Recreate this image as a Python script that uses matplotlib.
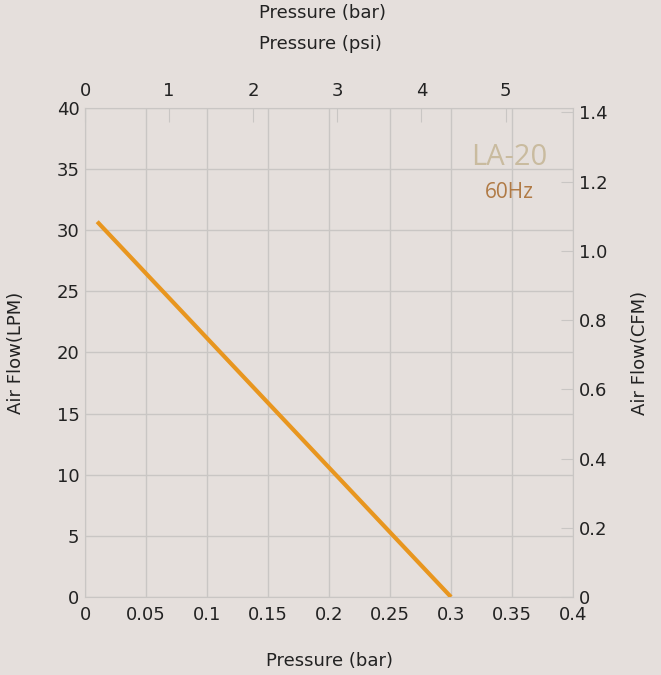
import matplotlib.pyplot as plt

# data
pressure_bar = [0.01, 0.30]
flow_lpm = [30.7, 0.0]

bar_ticks = [0, 0.05, 0.1, 0.15, 0.2, 0.25, 0.3, 0.35, 0.4]
bar_labels = ["0", "0.05", "0.1", "0.15", "0.2", "0.25", "0.3", "0.35", "0.4"]
lpm_ticks = [0, 5, 10, 15, 20, 25, 30, 35, 40]
psi_ticks = [0, 1, 2, 3, 4, 5]
cfm_ticks = [0, 0.2, 0.4, 0.6, 0.8, 1.0, 1.2, 1.4]
cfm_labels = ["0", "0.2", "0.4", "0.6", "0.8", "1.0", "1.2", "1.4"]

PSI_PER_BAR = 14.5038
CFM_PER_LPM = 0.0353147

bg = "#e5dfdc"
grid_c = "#c9c6c4"
txt = "#222222"
fs = 13

plt.rcParams["font.family"] = ["DejaVu Sans"]

fig = plt.figure(figsize=(6.61, 6.75), dpi=100, facecolor=bg)
ax = fig.add_axes([0.1286, 0.1156, 0.7383, 0.7244], facecolor=bg)

ax.plot(pressure_bar, flow_lpm, color="#e8961f", lw=3, solid_capstyle="butt", zorder=3)

ax.set_xlim(0, 0.4)
ax.set_ylim(0, 40)
ax.set_xticks(bar_ticks)
ax.set_xticklabels(bar_labels)
ax.set_yticks(lpm_ticks)
ax.grid(True, color=grid_c, lw=1)
ax.tick_params(length=0, labelsize=fs, labelcolor=txt, pad=4)
ax.tick_params(axis="x", pad=6.5)
for s in ax.spines.values():
    s.set_color(grid_c)

ax.set_xlabel("Pressure (bar)", fontsize=fs, color=txt, labelpad=20)
ax.set_ylabel("Air Flow(LPM)", fontsize=fs, color=txt, labelpad=23)

# top axis in psi
top = ax.twiny()
top.set_xlim(0, 0.4 * PSI_PER_BAR)
top.set_xticks(psi_ticks)
top.tick_params(direction="in", length=10, color=grid_c, labelsize=fs, labelcolor=txt, pad=6)
for s in top.spines.values():
    s.set_visible(False)

# right axis in CFM
right = ax.twinx()
right.set_ylim(0, 40 * CFM_PER_LPM)
right.set_yticks(cfm_ticks)
right.set_yticklabels(cfm_labels)
right.tick_params(direction="in", length=9, color=grid_c, labelsize=fs, labelcolor=txt, pad=4)
for s in right.spines.values():
    s.set_visible(False)
right.set_ylabel("Air Flow(CFM)", fontsize=fs, color=txt, labelpad=17)

fig.text(0.488, 0.981, "Pressure (bar)", ha="center", va="center", fontsize=fs, color=txt)
fig.text(0.485, 0.935, "Pressure (psi)", ha="center", va="center", fontsize=fs, color=txt)

ax.text(0.869, 0.898, "LA-20", transform=ax.transAxes, ha="center", va="center",
        fontsize=21, color="#c9bb9f", family=["Open Sans", "DejaVu Sans"])
ax.text(0.869, 0.828, "60Hz", transform=ax.transAxes, ha="center", va="center",
        fontsize=15, color="#b07a45", family=["Open Sans", "DejaVu Sans"])

fig.savefig("out.png", dpi=100, facecolor=bg)
